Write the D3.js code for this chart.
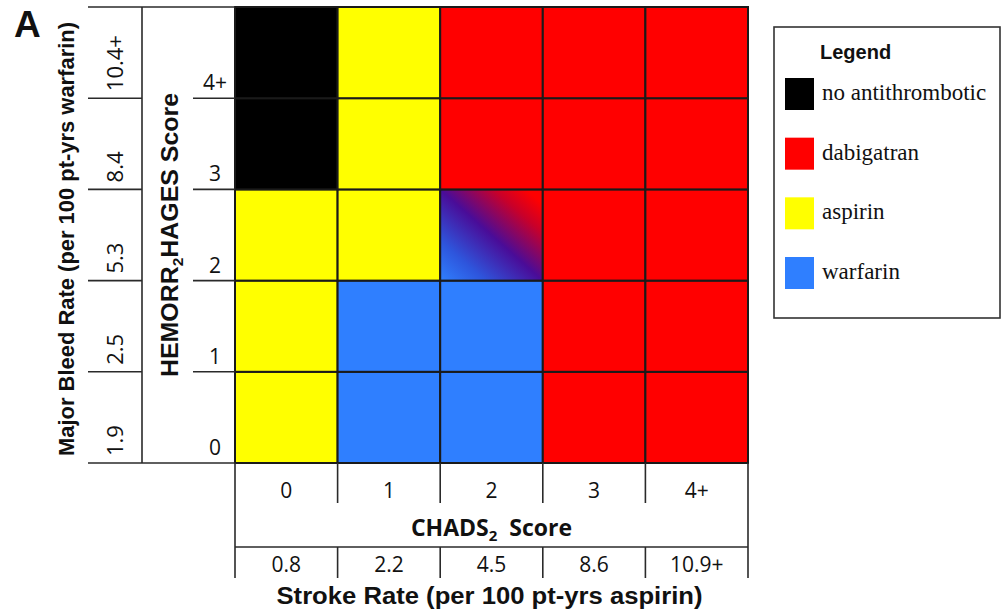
<!DOCTYPE html>
<html>
<head>
<meta charset="utf-8">
<script src="https://cdn.jsdelivr.net/npm/d3@7"></script>
<style>
  body { margin: 0; background: #fff; }
  svg { display: block; }
  .tick-num { font-family: "Open Sans", sans-serif; font-size: 21px; fill: #111; }
  .title { font-family: "Liberation Sans", Arial, sans-serif; font-weight: bold; fill: #111; }
  .legend-text { font-family: "Liberation Serif", "Times New Roman", serif; font-size: 23px; fill: #111; }
</style>
</head>
<body>
<div id="chart"></div>
<script>
(function() {
  'use strict';

  // CHADS2 score columns with stroke rates underneath
  var chadsScores = ['0', '1', '2', '3', '4+'];
  var strokeRates = ['0.8', '2.2', '4.5', '8.6', '10.9+'];

  // HEMORR2HAGES score rows (bottom to top) with major bleed rates
  var hemorrScores = ['0', '1', '2', '3', '4+'];
  var bleedRates = ['1.9', '2.5', '5.3', '8.4', '10.4+'];

  // recommended treatment, one row per HEMORR2HAGES score, one entry per CHADS2 score
  var treatmentRows = [
    ['aspirin', 'warfarin', 'warfarin', 'dabigatran', 'dabigatran'],
    ['aspirin', 'warfarin', 'warfarin', 'dabigatran', 'dabigatran'],
    ['aspirin', 'aspirin', 'mixed', 'dabigatran', 'dabigatran'],
    ['none', 'aspirin', 'dabigatran', 'dabigatran', 'dabigatran'],
    ['none', 'aspirin', 'dabigatran', 'dabigatran', 'dabigatran']
  ];

  var legendKeys = ['none', 'dabigatran', 'aspirin', 'warfarin'];
  var legendLabels = ['no antithrombotic', 'dabigatran', 'aspirin', 'warfarin'];

  var colors = {
    none: '#000000',
    dabigatran: '#ff0000',
    aspirin: '#ffff00',
    warfarin: '#2f7fff',
    mixed: 'url(#mixGrad)'
  };

  var width = 1003, height = 611;
  var svg = d3.select('#chart').append('svg').attr('width', width).attr('height', height);

  var x = d3.scaleBand().domain(chadsScores).range([235, 748]).padding(0);
  var y = d3.scaleBand().domain(hemorrScores.slice().reverse()).range([7, 463]).padding(0);
  var bw = x.bandwidth(), bh = y.bandwidth();
  var top = y.range()[0], bottom = y.range()[1];
  var left = x.range()[0], right = x.range()[1];

  var defs = svg.append('defs');
  var grad = defs.append('linearGradient').attr('id', 'mixGrad')
    .attr('x1', 0).attr('y1', 1).attr('x2', 1).attr('y2', 0);
  [[0, '#2f80ff'], [0.22, '#2e55dc'], [0.5, '#4a0c98'], [0.76, '#c8002a'], [0.92, '#ff0000']].forEach(function(s) {
    grad.append('stop').attr('offset', s[0]).attr('stop-color', s[1]);
  });

  svg.append('text').attr('class', 'title').attr('x', 14).attr('y', 37)
    .style('font-size', '37px').text('A');

  // cells
  var cells = [];
  treatmentRows.forEach(function(row, i) {
    row.forEach(function(t, j) {
      cells.push({ h: hemorrScores[i], c: chadsScores[j], t: t });
    });
  });

  svg.append('g').selectAll('rect').data(cells).enter().append('rect')
    .attr('x', function(d) { return x(d.c); })
    .attr('y', function(d) { return y(d.h); })
    .attr('width', bw).attr('height', bh)
    .style('fill', function(d) { return colors[d.t]; })
    .style('stroke', '#1a1a1a').style('stroke-width', 2);

  var lines = svg.append('g').style('stroke', '#2a2a2a').style('stroke-width', 1.6);
  function line(x1, y1, x2, y2) {
    lines.append('line').attr('x1', x1).attr('y1', y1).attr('x2', x2).attr('y2', y2);
  }

  // left side table
  line(88, top, left, top);
  line(88, bottom, left, bottom);
  line(142, top, 142, bottom);
  hemorrScores.slice(1).forEach(function(h) {
    var yy = y(h) + bh;
    line(88, yy, 142, yy);
    line(193, yy, left, yy);
  });

  svg.append('g').selectAll('text').data(bleedRates).enter().append('text')
    .attr('class', 'tick-num').style('font-size', '22px')
    .attr('text-anchor', 'start')
    .attr('transform', function(d, i) {
      return 'translate(123,' + (y(hemorrScores[i]) + bh - 7) + ') rotate(-90)';
    })
    .text(function(d) { return d; });

  svg.append('g').selectAll('text').data(hemorrScores).enter().append('text')
    .attr('class', 'tick-num')
    .attr('text-anchor', 'middle')
    .attr('x', 215)
    .attr('y', function(d) { return y(d) + bh - 8; })
    .text(function(d) { return d; });

  svg.append('text').attr('class', 'title')
    .attr('text-anchor', 'middle')
    .attr('transform', 'translate(74,' + ((top + bottom) / 2 + 4) + ') rotate(-90)')
    .attr('textLength', 434).attr('lengthAdjust', 'spacingAndGlyphs')
    .style('font-size', '22px')
    .text('Major Bleed Rate (per 100 pt-yrs warfarin)');

  var ht = svg.append('text').attr('class', 'title')
    .attr('text-anchor', 'middle')
    .attr('transform', 'translate(178,' + ((top + bottom) / 2) + ') rotate(-90)')
    .attr('textLength', 284).attr('lengthAdjust', 'spacingAndGlyphs')
    .style('font-size', '24px');
  ht.append('tspan').text('HEMORR');
  ht.append('tspan').attr('dy', 5).style('font-size', '15px').text('2');
  ht.append('tspan').attr('dy', -5).text('HAGES Score');

  // bottom table
  var cuts = chadsScores.map(function(c) { return x(c); }).concat([right]);
  cuts.forEach(function(cx, i) {
    if (i === 0 || i === cuts.length - 1) {
      line(cx, bottom, cx, 578);
    } else {
      line(cx, bottom, cx, 503);
      line(cx, 547, cx, 578);
    }
  });
  line(left, 547, right, 547);

  svg.append('g').selectAll('text').data(chadsScores).enter().append('text')
    .attr('class', 'tick-num').attr('text-anchor', 'middle')
    .attr('x', function(d) { return x(d) + bw / 2; })
    .attr('y', 498)
    .text(function(d) { return d; });

  svg.append('g').selectAll('text').data(strokeRates).enter().append('text')
    .attr('class', 'tick-num').attr('text-anchor', 'middle')
    .attr('x', function(d, i) { return x(chadsScores[i]) + bw / 2; })
    .attr('y', 572)
    .text(function(d) { return d; });

  var ct = svg.append('text').attr('class', 'title')
    .attr('text-anchor', 'middle')
    .attr('x', x('2') + bw / 2).attr('y', 536)
    .style('font-family', '"Open Sans", sans-serif')
    .style('font-size', '23px');
  ct.append('tspan').text('CHADS');
  ct.append('tspan').attr('dy', 5).style('font-size', '15px').text('2');
  ct.append('tspan').attr('dy', -5).text('\u00a0 Score');

  svg.append('text').attr('class', 'title')
    .attr('text-anchor', 'middle')
    .attr('x', (left + right) / 2 - 2).attr('y', 604)
    .attr('textLength', 426).attr('lengthAdjust', 'spacingAndGlyphs')
    .style('font-size', '23px')
    .text('Stroke Rate (per 100 pt-yrs aspirin)');

  // legend
  var lg = svg.append('g').attr('transform', 'translate(774,27)');
  lg.append('rect').attr('width', 226).attr('height', 291)
    .style('fill', '#fff').style('stroke', '#333').style('stroke-width', 1.6);
  lg.append('text').attr('class', 'title').attr('x', 46).attr('y', 32)
    .style('font-size', '20px').text('Legend');

  var ly = d3.scalePoint().domain(legendKeys).range([51, 230]);
  var items = lg.selectAll('g.item').data(legendKeys).enter().append('g')
    .attr('class', 'item')
    .attr('transform', function(d) { return 'translate(11,' + ly(d) + ')'; });
  items.append('rect').attr('width', 29).attr('height', 32)
    .style('fill', function(d) { return colors[d]; });
  items.append('text').attr('class', 'legend-text')
    .attr('x', 37).attr('y', 22)
    .text(function(d, i) { return legendLabels[i]; });
}).call(this);
</script>
</body>
</html>
